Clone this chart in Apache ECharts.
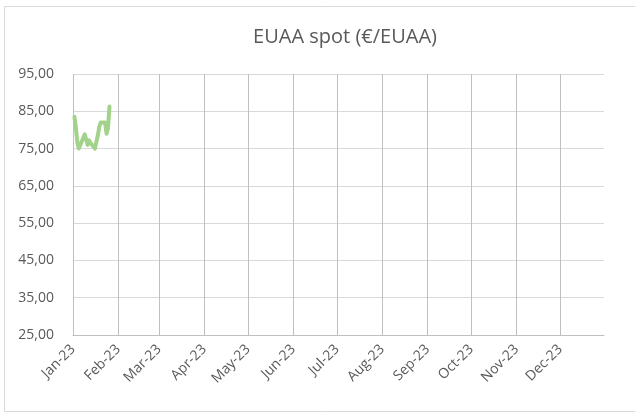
<!DOCTYPE html>
<html>
<head>
<meta charset="utf-8">
<script src="https://cdn.jsdelivr.net/npm/echarts@6/dist/echarts.min.js"></script>
<style>
  html, body { margin: 0; padding: 0; background: #fff; }
  #chart { width: 635px; height: 413px; }
</style>
</head>
<body>
<div id="chart"></div>
<script>
// trading days in Jan 2023 and spot price
const days = ['2023-01-02', '2023-01-03', '2023-01-04', '2023-01-05', '2023-01-06',
              '2023-01-09', '2023-01-10', '2023-01-11', '2023-01-12', '2023-01-13',
              '2023-01-16', '2023-01-17', '2023-01-18', '2023-01-19', '2023-01-20',
              '2023-01-23', '2023-01-24', '2023-01-25', '2023-01-26'];
const spot = [83.5, 80.5, 76.5, 75.0, 74.8,
              78.8, 77.5, 76.0, 77.2, 76.5,
              75.0, 75.5, 78.5, 80.8, 82.0,
              82.0, 79.0, 80.5, 86.3];
const monthNames = ['Jan', 'Feb', 'Mar', 'Apr', 'May', 'Jun', 'Jul', 'Aug', 'Sep', 'Oct', 'Nov', 'Dec'];

function toTime(s) {
    let p = s.split('-');
    return new Date(+p[0], +p[1] - 1, +p[2]).getTime();
}

const DAY = 24 * 3600 * 1000;
const font = '"Open Sans", "Liberation Sans", sans-serif';

let chart = echarts.init(document.getElementById('chart'));
chart.setOption({
    animation: false,
    backgroundColor: '#fff',
    title: {
        text: 'EUAA spot (€/EUAA)',
        left: 340,
        top: 22,
        textAlign: 'center',
        textStyle: { fontFamily: font, fontSize: 20, fontWeight: 'normal', color: '#595959' }
    },
    graphic: [{
        type: 'rect',
        shape: { x: 4.5, y: 6.5, width: 640, height: 405 },
        style: { fill: null, stroke: '#d9d9d9', lineWidth: 1 },
        silent: true
    }],
    grid: { left: 73, right: 31, top: 74, bottom: 78 },
    xAxis: {
        type: 'time',
        min: new Date(2023, 0, 1).getTime(),
        max: new Date(2023, 11, 31).getTime(),
        minInterval: 28 * DAY,
        maxInterval: 31 * DAY,
        axisLine: { show: true, lineStyle: { color: '#bfbfbf' } },
        axisTick: { show: false },
        splitLine: { show: true, showMaxLine: false, lineStyle: { color: '#bfbfbf', width: 1 } },
        axisLabel: {
            rotate: 45,
            showMaxLabel: false,
            color: '#595959',
            fontFamily: font,
            fontSize: 14,
            margin: 12,
            formatter: function (v) {
                let d = new Date(v);
                return monthNames[d.getMonth()] + '-' + String(d.getFullYear()).slice(2);
            }
        }
    },
    yAxis: {
        type: 'value',
        min: 25,
        max: 95,
        interval: 10,
        axisLine: { show: false },
        axisTick: { show: false },
        splitLine: { lineStyle: { color: '#d9d9d9' } },
        axisLabel: {
            color: '#595959',
            fontFamily: font,
            fontSize: 14,
            margin: 19,
            formatter: function (v) { return v.toFixed(2).replace('.', ','); }
        }
    },
    series: [{
        name: 'EUAA spot',
        type: 'line',
        data: days.map((d, i) => [toTime(d), spot[i]]),
        showSymbol: false,
        lineStyle: { color: '#a3d38a', width: 4, join: 'round', cap: 'round' },
        itemStyle: { color: '#a3d38a' }
    }]
});
</script>
</body>
</html>
